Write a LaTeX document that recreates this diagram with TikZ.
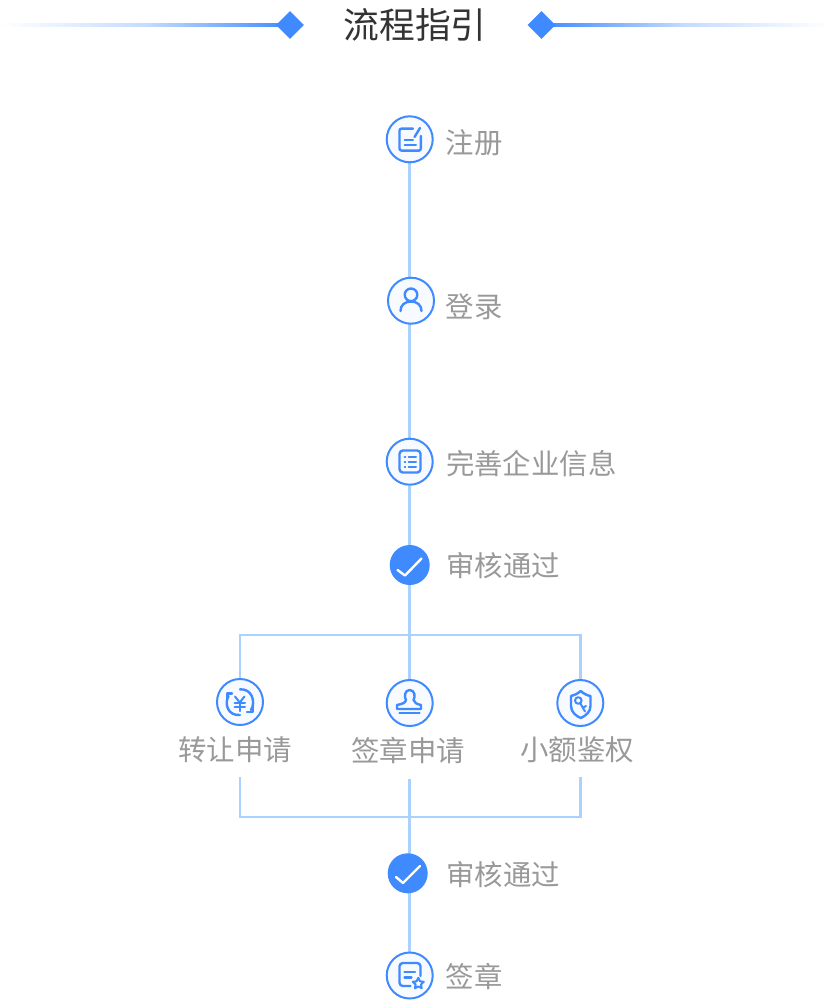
\documentclass[tikz,border=0pt]{standalone}
\usepackage{fontspec}
\setmainfont{Noto Sans CJK SC}
\usetikzlibrary{shapes.geometric,backgrounds,calc}
\definecolor{mainblue}{HTML}{3F8AFF}
\definecolor{linkblue}{HTML}{ABD2FF}
\definecolor{tintfill}{HTML}{F7FBFF}
\definecolor{labelgray}{HTML}{999999}
\definecolor{titlegray}{HTML}{333333}
\tikzset{
  stepcircle/.style={circle,draw=mainblue,fill=tintfill,line width=1.5pt,minimum size=34.5pt,inner sep=0pt},
  donecircle/.style={circle,fill=mainblue,minimum size=30pt,inner sep=0pt},
  steplabel/.style={anchor=center,inner sep=0pt,text=labelgray,font=\fontsize{21.3}{21.3}\selectfont},
  conn/.style={draw=linkblue,line width=1.9pt},
  ico/.style={draw=mainblue,line width=1.8pt,line cap=round,line join=round},
  icothin/.style={draw=mainblue,line width=1.5pt,line cap=round,line join=round},
  tick/.style={draw=white,line width=1.8pt,line cap=round,line join=round},
  endmark/.style={diamond,fill=mainblue,minimum size=21pt,inner sep=0pt}
}
\begin{document}
\begin{tikzpicture}[x=0.75pt,y=-0.75pt]
\useasboundingbox (0,0) rectangle (830,1002);
% title
\node[endmark] (dl) at (290,25) {};
\node[endmark] (dr) at (541.5,25) {};
\node[inner sep=0pt,text=titlegray,font=\fontsize{26.8}{26.8}\selectfont] (title) at (415,25) {流程指引};
% step circles
\node[stepcircle] (reg) at (409.7,139.3) {};
\node[stepcircle] (login) at (411,300.7) {};
\node[stepcircle] (info) at (409.7,461.7) {};
\node[donecircle] (okA) at (409.7,565) {};
\node[stepcircle] (transfer) at (240,702) {};
\node[stepcircle] (sign) at (409.7,703) {};
\node[stepcircle] (small) at (580.3,703) {};
\node[donecircle] (okB) at (407.7,873.3) {};
\node[stepcircle] (seal) at (409.7,975.5) {};
% labels
\node[steplabel] (lreg) at (474,142.5) {注册};
\node[steplabel] (llogin) at (474,306.5) {登录};
\node[steplabel] (linfo) at (531.3,463.5) {完善企业信息};
\node[steplabel] (lokA) at (503,566) {审核通过};
\node[steplabel] (ltransfer) at (235.3,750) {转让申请};
\node[steplabel] (lsign) at (408,750) {签章申请};
\node[steplabel] (lsmall) at (577,750) {小额鉴权};
\node[steplabel] (lokB) at (503,874.5) {审核通过};
\node[steplabel] (lseal) at (474,976.5) {签章};
% junctions
\coordinate (jt) at (409.7,635);
\coordinate (jb) at (409.7,817);
\coordinate (bl) at (240,777);
\coordinate (bc) at (409.7,779);
\coordinate (br) at (580.3,777);
\coordinate (hl) at (0,25);
\coordinate (hr) at (830,25);
\begin{scope}[on background layer]
  \fill[white] (0,0) rectangle (830,1002);
  \draw[conn] (reg) -- (reg |- login);
  \draw[conn] (reg |- login) -- (info);
  \draw[conn] (info) -- (okA);
  \draw[conn] (okA) -- (sign);
  \draw[conn] (transfer) |- (jt) -| (small);
  \draw[conn] (bl) |- (jb) -| (br);
  \draw[conn] (bc) -- (bc |- okB);
  \draw[conn] (bc |- okB) -- (seal);
  \shade[left color=white,right color=mainblue,middle color=mainblue!30] (hl |- 0,23.5) rectangle (dl.center |- 0,26.5);
  \shade[right color=white,left color=mainblue,middle color=mainblue!30] (dr.center |- 0,23.5) rectangle (hr |- 0,26.5);
\end{scope}
% register icon
\draw[ico,rounded corners=1.5pt] (413,128.6) -- (399.5,128.6) -- (399.5,150.6) -- (420.8,150.6) -- (420.8,136);
\draw[ico] (414.5,137) -- (420,128);
\draw[icothin] (404.5,140) -- (413,140);
\draw[icothin] (404.5,145.5) -- (416,145.5);
% login icon
\draw[ico] (411,294.8) circle (6.3);
\draw[ico] (400.5,311) .. controls (400.5,305) and (405,301.5) .. (411,301.5) .. controls (417,301.5) and (421.5,305) .. (421.5,311);
% info icon
\draw[ico,rounded corners=2.5pt] (399.5,450.5) rectangle (420.5,472.5);
\foreach \yy in {456.5,461.5,466.5}{
  \draw[icothin] (404.5,\yy) -- (405.3,\yy);
  \draw[icothin] (408.5,\yy) -- (416,\yy);
}
% checks
\draw[tick] (397.5,570) -- (405,575.5) -- (421.5,558.5);
\draw[tick] (396,877) -- (403,883) -- (420,866);
% transfer icon
\draw[ico] (228.5,696) .. controls (224,704) and (228,716) .. (240,715);
\draw[ico] (240,689.3) .. controls (252,688.5) and (256,702) .. (251,710);
\draw[ico] (232,693.3) -- (226.7,693.3) -- (226.7,698.3);
\draw[ico] (247,711.7) -- (252.7,711.7) -- (252.7,706);
\draw[icothin] (235,696.5) -- (239.7,702.5) -- (244.5,696.5);
\draw[icothin] (234.5,703) -- (245,703);
\draw[icothin] (234.5,707) -- (245,707);
\draw[icothin] (239.7,702.5) -- (239.7,711);
% stamp icon
\draw[ico] (406,700) .. controls (404,697) and (404.5,690) .. (409.7,690) .. controls (415,690) and (415.5,697) .. (413.5,700) .. controls (414,703) and (417,704) .. (421,705) -- (421,709) -- (397,709) -- (397,705) .. controls (402,704) and (405.5,703) .. (406,700);
\draw[ico] (399.5,713) -- (419.5,713);
% shield icon
\draw[ico] (580.7,691) .. controls (577,694) and (574,695.5) .. (571,696) -- (571,706) .. controls (571,712) and (576,716) .. (580.7,718) .. controls (585.5,716) and (590.5,712) .. (590.5,706) -- (590.5,696) .. controls (587.5,695.5) and (584,694) .. (580.7,691) -- cycle;
\draw[icothin] (578.3,700.5) circle (3.3);
\draw[icothin] (580.3,703.3) -- (585,711.5);
\draw[icothin] (583,707.5) -- (586,706);
% seal icon
\draw[ico,rounded corners=2.5pt] (420.5,976) -- (420.5,963) -- (399.5,963) -- (399.5,986) -- (410.5,986);
\draw[ico] (404.5,971.7) -- (415,971.7);
\draw[ico] (404.5,977.3) -- (411.5,977.3);
\draw[icothin,fill=white] (418.3,977.8) -- (420,981.3) -- (423.8,981.8) -- (421,984.4) -- (421.7,988.2) -- (418.3,986.4) -- (414.9,988.2) -- (415.6,984.4) -- (412.8,981.8) -- (416.6,981.3) -- cycle;
\end{tikzpicture}
\end{document}
